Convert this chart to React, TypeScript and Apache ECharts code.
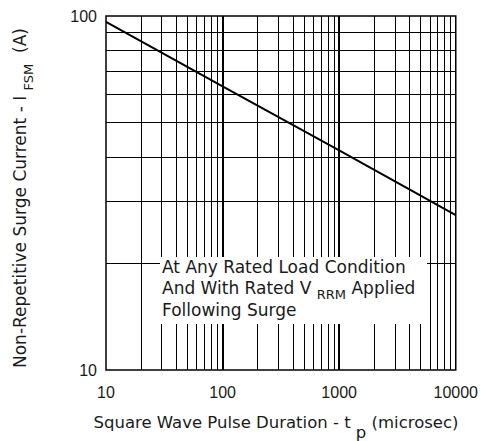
import React, { useEffect, useRef } from "react";
import * as echarts from "echarts";

const pulseDuration = [10, 100, 1000, 10000];
const surgeCurrent = [96.2, 63.3, 41.7, 27.4];
const xMinorGrid = [20, 30, 40, 50, 60, 70, 80, 90, 200, 300, 400, 500, 600, 700, 800, 900, 2000, 3000, 4000, 5000, 6000, 7000, 8000, 9000];
const xMajorGrid = [100, 1000];
const yMinorGrid = [20, 30, 40, 50, 60, 70, 80, 90];

const FONT = "DejaVu Sans";
const TICKFONT = "Liberation Sans";
const INK = "#1a1a1a";

export default function App() {
  const ref = useRef<HTMLDivElement>(null);
  useEffect(() => {
    if (!ref.current) return;
    const chart = echarts.init(ref.current, undefined, { renderer: "svg" });
    const gridLine = (w: number) => ({ color: "#000", width: w, type: "solid" as const });
    chart.setOption({
      animation: false,
      backgroundColor: "#fff",
      grid: { left: 106, top: 16, width: 351, height: 354, show: true, borderColor: "#000", borderWidth: 1.5, backgroundColor: "transparent" },
      xAxis: {
        type: "log", logBase: 10, min: 10, max: 10000,
        axisLine: { show: false }, axisTick: { show: false }, splitLine: { show: false },
        axisLabel: { fontSize: 16, fontFamily: TICKFONT, color: INK, margin: 14, showMaxLabel: true, showMinLabel: true, formatter: (v: number) => String(v) },
      },
      yAxis: {
        type: "log", logBase: 10, min: 10, max: 100,
        axisLine: { show: false }, axisTick: { show: false }, splitLine: { show: false },
        axisLabel: { fontSize: 16, fontFamily: TICKFONT, color: INK, margin: 9, formatter: (v: number) => String(v) },
      },
      series: [
        {
          type: "line", data: [], z: 1, silent: true,
          markLine: {
            silent: true, symbol: ["none", "none"], label: { show: false }, animation: false,
            data: [
              ...xMinorGrid.map((v) => ({ xAxis: v, lineStyle: gridLine(1) })),
              ...xMajorGrid.map((v) => ({ xAxis: v, lineStyle: gridLine(2) })),
              ...yMinorGrid.map((v) => ({ yAxis: v, lineStyle: gridLine(1) })),
            ],
          },
        },
        {
          type: "line", z: 5, showSymbol: false, symbol: "none",
          data: pulseDuration.map((x, i) => [x, surgeCurrent[i]]),
          lineStyle: { color: "#000", width: 2 },
        },
      ],
      graphic: {
        z: 100,
        elements: [
          { type: "rect", z: 100, shape: { x: 160, y: 257, width: 267, height: 67 }, style: { fill: "#fff" } },
          {
            type: "text", z: 101, x: 162, y: 258,
            style: {
              text: "{a|At Any Rated Load Condition}\n{a|And With Rated V }{s|RRM}{a| Applied}\n{a|Following Surge}",
              fontFamily: FONT, fill: INK, align: "left", verticalAlign: "top",
              rich: {
                a: { fontSize: 17, fontFamily: FONT, fill: INK, lineHeight: 21.5, verticalAlign: "top" },
                s: { fontSize: 13, fontFamily: FONT, fill: INK, lineHeight: 21.5, verticalAlign: "bottom" },
              },
            },
          },
          {
            type: "text", z: 101, x: 276, y: 414,
            style: {
              text: "{a|Square Wave Pulse Duration - t }{s|p}{a| (microsec)}",
              fontFamily: FONT, fill: INK, align: "center", verticalAlign: "top",
              rich: {
                a: { fontSize: 16.5, fontFamily: FONT, fill: INK, lineHeight: 19, verticalAlign: "top" },
                s: { fontSize: 16.5, fontFamily: FONT, fill: INK, lineHeight: 27, verticalAlign: "bottom" },
              },
            },
          },
          {
            type: "text", z: 101, x: 23, y: 198, rotation: Math.PI / 2,
            style: {
              text: "{a|Non-Repetitive Surge Current - I }{s|FSM}{a|  (A)}",
              fontFamily: FONT, fill: INK, align: "center", verticalAlign: "middle",
              rich: {
                a: { fontSize: 17, fontFamily: FONT, fill: INK, lineHeight: 19, verticalAlign: "top" },
                s: { fontSize: 13, fontFamily: FONT, fill: INK, lineHeight: 24, verticalAlign: "bottom" },
              },
            },
          },
        ],
      },
    });
    return () => chart.dispose();
  }, []);
  return <div ref={ref} style={{ position: "fixed", left: 0, top: 0, width: 481, height: 441 }} />;
}
